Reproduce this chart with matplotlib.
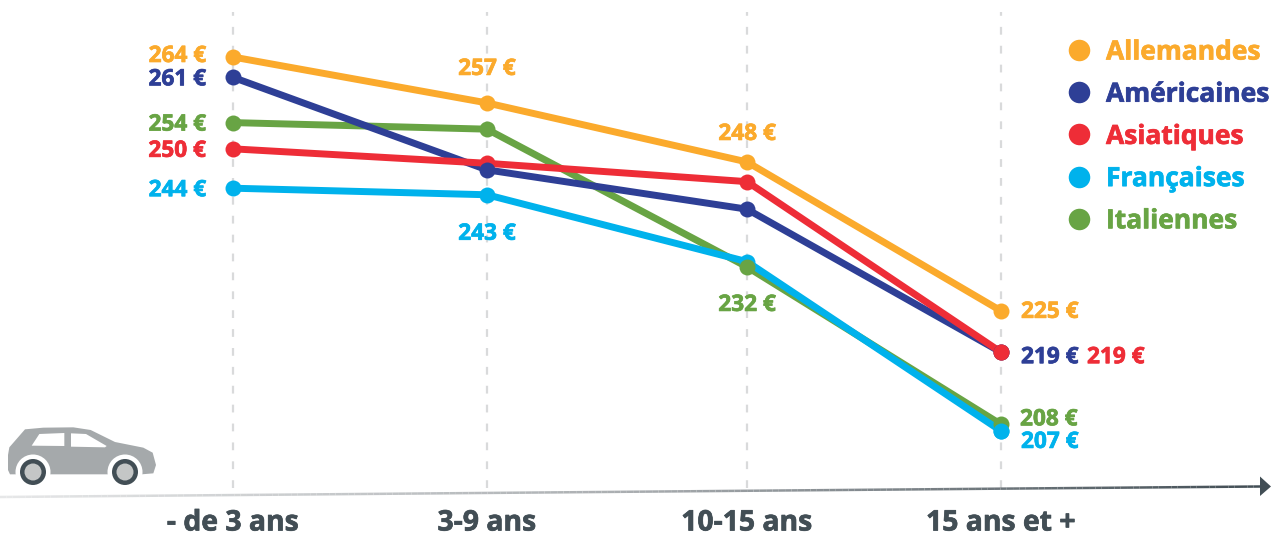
import numpy as np
import matplotlib.pyplot as plt
import matplotlib.patheffects as pe
from matplotlib.collections import LineCollection
from matplotlib.colors import LinearSegmentedColormap
from matplotlib.patches import Circle, Polygon

plt.rcParams['font.family'] = ['Open Sans', 'DejaVu Sans']
plt.rcParams['font.weight'] = 'bold'

ages = ['- de 3 ans', '3-9 ans', '10-15 ans', '15 ans et +']
marques = ['Allemandes', 'Américaines', 'Asiatiques', 'Françaises', 'Italiennes']
allemandes = [264, 257, 248, 225.3]
americaines = [260.9, 246.8, 240.8, 219]
asiatiques = [250, 247.8, 245, 219]
francaises = [244, 243, 232.8, 207]
italiennes = [254, 253, 232, 208]

series = [allemandes, americaines, asiatiques, francaises, italiennes]
couleurs = ['#FBAA2C', '#2E3F96', '#EE2D37', '#00B2EC', '#68A444']
sombre = '#424E55'

# the four age groups are not quite evenly spaced in the picture
x_ages = [0, 0.992, 2.008, 3]

# labels (serie, point, dx, dy) in pixels from the marker
labels = [
    (0, 0, -27, -1), (1, 0, -27, 2), (4, 0, -27, 2), (2, 0, -27, 2), (3, 0, -27, 2),
    (0, 1, 0, -34), (3, 1, 0, 39),
    (0, 2, 0, -28), (4, 2, 0, 38),
    (0, 3, 20, 1), (1, 3, 20, 5), (2, 3, 86, 5), (4, 3, 19, -5), (3, 3, 20, 11),
]


def gras(t):
    t.set_path_effects([pe.withStroke(linewidth=0.5, foreground=t.get_color())])


fig = plt.figure(figsize=(12.71, 5.36), dpi=100)

# value axes over the whole figure
ax = fig.add_axes([0, 0, 1, 1])
ax.set_xlim(-233 / 256, (1271 - 233) / 256)
ax.set_ylim(264 - 479 / 6.56, 264 + 57 / 6.56)
ax.axis('off')

for x in x_ages:
    ax.plot([x, x], [264 - 431 / 6.56, 264 + 45 / 6.56], color='#D9DADB', lw=1.6,
            dashes=(3.5, 5), zorder=1)

# lines first, then markers: the stacking differs from point to point in the original
for z, i in enumerate([0, 4, 3, 1, 2]):
    ax.plot(x_ages, series[i], color=couleurs[i], lw=5, zorder=2 + z, solid_capstyle='round')
for z, i in enumerate([0, 2, 3, 4, 1]):
    ax.plot(x_ages, series[i], 'o', color=couleurs[i], ms=11.5, mew=0, zorder=8 + z)
ax.plot(x_ages[3], asiatiques[3], 'o', color=couleurs[2], ms=11.5, mew=0, zorder=14)
ax.plot(x_ages[3], francaises[3], 'o', color=couleurs[3], ms=11.5, mew=0, zorder=14)

for s, p, dx, dy in labels:
    t = ax.annotate(f'{series[s][p]:.0f} €', (x_ages[p], series[s][p]),
                    xytext=(dx * 0.72, -dy * 0.72), textcoords='offset points',
                    color=couleurs[s], fontsize=16.3,
                    ha='right' if dx < 0 else ('center' if dx == 0 else 'left'),
                    va='center', zorder=16)
    gras(t)

for x, age in zip(x_ages, ages):
    t = ax.text(x, 264 - (523 - 57) / 6.56, age, color=sombre, fontsize=20.4, ha='center', va='center')
    gras(t)

# pixel overlay for legend, arrow and car
px = fig.add_axes([0, 0, 1, 1], facecolor='none')
px.set_xlim(0, 1271)
px.set_ylim(536, 0)
px.axis('off')

for i, nom in enumerate(marques):
    y = 50 + i * 42.2
    px.plot(1079, y, 'o', color=couleurs[i], ms=15.5, mew=0)
    t = px.text(1106, y + 2, nom, color=couleurs[i], fontsize=19, ha='left', va='center')
    gras(t)

xs = np.linspace(0, 1260, 200)
ys = 497 - (xs / 1260) * 10.5
segs = np.stack([np.column_stack([xs[:-1], ys[:-1]]), np.column_stack([xs[1:], ys[1:]])], axis=1)
degrade = LinearSegmentedColormap.from_list('axe', ['#E6E7E8', '#A9ADB0', '#424E55'])
lc = LineCollection(segs, cmap=degrade, linewidths=1.8)
lc.set_array(xs[:-1])
px.add_collection(lc)
px.add_patch(Polygon([(1260, 476.5), (1271, 486.5), (1260, 496)], color=sombre, lw=0))

# car
carrosserie = np.array([(24, 135), (28, 112), (75, 58), (130, 53), (220, 52), (272, 60), (345, 96),
                        (430, 113), (458, 128), (468, 165), (460, 190), (425, 193), (30, 193), (24, 180)])
vitre1 = np.array([(95, 107), (118, 72), (193, 69), (193, 108)])
vitre2 = np.array([(213, 70), (258, 72), (320, 108), (315, 112), (213, 110)])


def car_xy(p):
    return p / 3 + np.array([0, 410])


px.add_patch(Polygon(car_xy(carrosserie), color='#A5A9AB', lw=0))
px.add_patch(Polygon(car_xy(vitre1), color='white', lw=0))
px.add_patch(Polygon(car_xy(vitre2), color='white', lw=0))
for cx in (33, 125):
    px.add_patch(Circle((cx, 472), 17.5, color='white', lw=0))
    px.add_patch(Circle((cx, 472), 13, color=sombre, lw=0))
    px.add_patch(Circle((cx, 472), 8.5, color='#C4C6C6', lw=0))

fig.savefig('out.png', dpi=100)
